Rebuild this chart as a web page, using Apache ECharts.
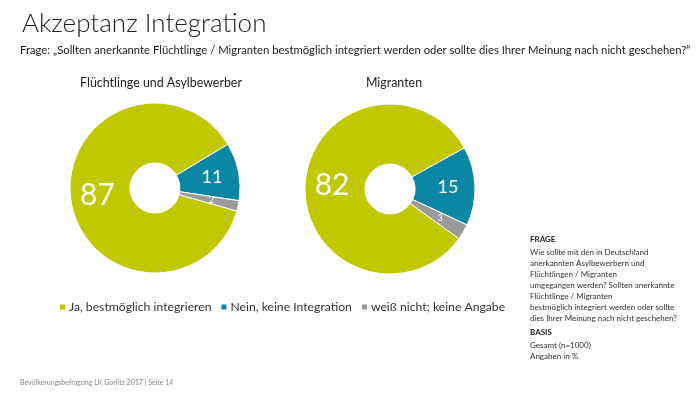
<!DOCTYPE html>
<html>
<head>
<meta charset="utf-8">
<script src="https://cdn.jsdelivr.net/npm/echarts@6/dist/echarts.min.js"></script>
<style>html,body{margin:0;padding:0;background:#fff}#c{width:700px;height:394px}</style>
</head>
<body>
<div id="c"></div>
<script>
const categories = ['Ja, bestmöglich integrieren', 'Nein, keine Integration', 'weiß nicht; keine Angabe'];
const groups = ['Flüchtlinge und Asylbewerber', 'Migranten'];
const valuesFluechtlinge = [87, 11, 2];
const valuesMigranten = [82, 15, 3];
const colors = ['#c2c800', '#0b87a4', '#9a9a9a'];
const FONT = 'Lato, "Open Sans", sans-serif';

function pieData(vals) {
  // drawing order clockwise: Nein, weiß nicht, Ja
  const order = [1, 2, 0];
  return order.map(i => ({
    name: categories[i], value: vals[i],
    itemStyle: { color: colors[i] },
    label: {
      fontSize: i === 0 ? 30 : (i === 1 ? 18 : 9),
      color: '#fff'
    }
  }));
}

const chart = echarts.init(document.getElementById('c'), null, { renderer: 'canvas' });
chart.setOption({
  animation: false,
  textStyle: { fontFamily: FONT },
  title: [
    { text: 'Akzeptanz Integration', left: 17, top: 6,
      textStyle: { fontFamily: FONT, fontSize: 26, fontWeight: 300, color: '#222' } },
    { text: 'Frage: „Sollten anerkannte Flüchtlinge / Migranten bestmöglich integriert werden oder sollte dies Ihrer Meinung nach nicht geschehen?“',
      left: 15, top: 40, textStyle: { fontFamily: FONT, fontSize: 11.3, fontWeight: 'normal', color: '#222' } },
    { text: groups[0], left: 156, top: 72, textAlign: 'center',
      textStyle: { fontFamily: FONT, fontSize: 12.4, fontWeight: 'normal', color: '#222' } },
    { text: groups[1], left: 389, top: 72, textAlign: 'center',
      textStyle: { fontFamily: FONT, fontSize: 12.4, fontWeight: 'normal', color: '#222' } }
  ],
  legend: {
    left: 53, top: 296, itemWidth: 7, itemHeight: 7, itemGap: 8, icon: 'rect',
    data: categories.map((c, i) => ({ name: c, itemStyle: { color: colors[i] } })),
    textStyle: { fontFamily: FONT, fontSize: 12.2, color: '#333', padding: [0, 0, 0, -2] }
  },
  series: [
    { type: 'pie', center: [155, 188], radius: [25, 85], startAngle: 31, clockwise: true,
      label: { show: true, position: 'inside', formatter: '{c}', fontFamily: FONT },
      labelLine: { show: false }, emphasis: { disabled: true },
      itemStyle: { borderColor: '#fff', borderWidth: 1 },
      data: pieData(valuesFluechtlinge) },
    { type: 'pie', center: [390, 189], radius: [25, 85], startAngle: 29, clockwise: true,
      label: { show: true, position: 'inside', formatter: '{c}', fontFamily: FONT },
      labelLine: { show: false }, emphasis: { disabled: true },
      itemStyle: { borderColor: '#fff', borderWidth: 1 },
      data: pieData(valuesMigranten) }
  ],
  graphic: [
    { type: 'text', left: 530, top: 235, style: {
      text: 'FRAGE', font: 'bold 8px ' + FONT, fill: '#222' } },
    { type: 'text', left: 530, top: 247, style: {
      text: 'Wie sollte mit den in Deutschland\nanerkannten Asylbewerbern und\nFlüchtlingen / Migranten\numgegangen werden? Sollten anerkannte\nFlüchtlinge / Migranten\nbestmöglich integriert werden oder sollte\ndies Ihrer Meinung nach nicht geschehen?',
      font: '8px ' + FONT, lineHeight: 11, fill: '#333' } },
    { type: 'text', left: 530, top: 328, style: {
      text: 'BASIS', font: 'bold 8px ' + FONT, fill: '#222' } },
    { type: 'text', left: 530, top: 340, style: {
      text: 'Gesamt (n=1000)\nAngaben in %', font: '8px ' + FONT, lineHeight: 11, fill: '#333' } },
    { type: 'text', left: 20, top: 379, style: {
      text: 'Bevölkerungsbefragung LK Görlitz 2017 | Seite 14', font: '7px ' + FONT, fill: '#888' } }
  ]
});
</script>
</body>
</html>
